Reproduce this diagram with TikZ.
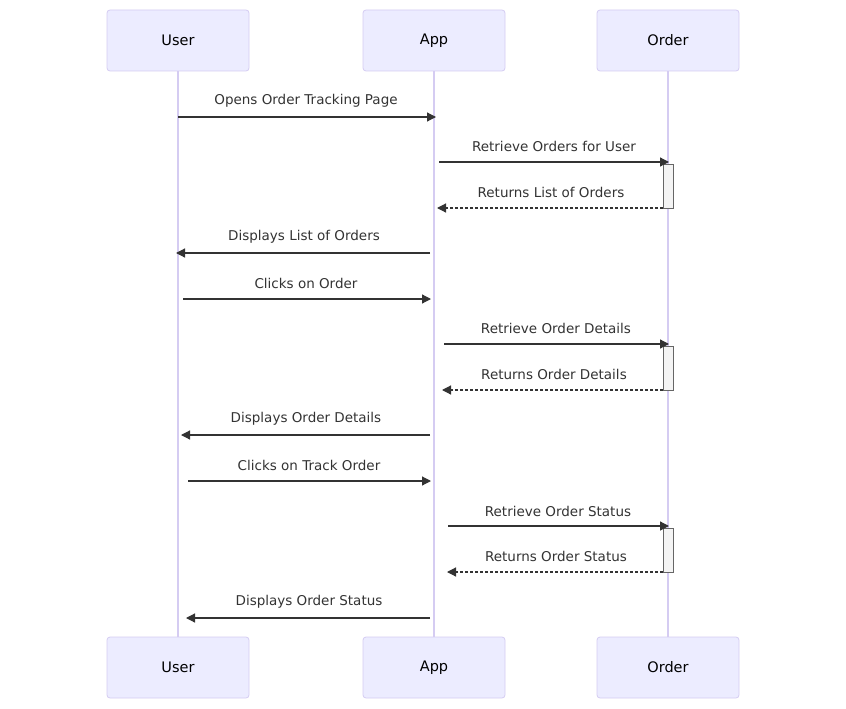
\documentclass[tikz,border=0pt]{standalone}
\usepackage{fontspec}
\setmainfont{DejaVu Sans}
\usetikzlibrary{arrows.meta}
\definecolor{actfill}{HTML}{ECECFF}
\definecolor{actline}{HTML}{D5CCF2}
\definecolor{msg}{HTML}{333333}
\definecolor{actvfill}{HTML}{F4F4F4}
\definecolor{actvline}{HTML}{666666}
\begin{document}
\begin{tikzpicture}[x=1pt,y=-1pt,
  actor/.style={draw=actline,fill=actfill,rounded corners=3pt,minimum width=142pt,minimum height=61pt,inner sep=0pt,font=\fontsize{14.5}{16}\selectfont,line width=0.8pt},
  life/.style={draw=actline,line width=1.2pt},
  msgline/.style={draw=msg,line width=1.2pt,-{Triangle[length=9pt,width=9pt]}},
  retline/.style={msgline,dash pattern=on 3pt off 2pt},
  lbl/.style={font=\fontsize{13.5}{15}\selectfont,text=msg,inner sep=0pt},
  activ/.style={draw=actvline,fill=actvfill,line width=0.8pt}]
\useasboundingbox (0,0) rectangle (846,709);
\node[actor] (u1) at (178,40.5) {User};
\node[actor] (a1) at (434,40.5) {App};
\node[actor] (o1) at (668,40.5) {Order};
\node[actor] (u2) at (178,667.5) {User};
\node[actor] (a2) at (434,667.5) {App};
\node[actor] (o2) at (668,667.5) {Order};
\draw[life] (u1.south) -- (u2.north);
\draw[life] (a1.south) -- (a2.north);
\draw[life] (o1.south) -- (o2.north);
% activations
\draw[activ] (663,164) rectangle (673,208);
\draw[activ] (663,346) rectangle (673,390);
\draw[activ] (663,528) rectangle (673,572);
% coordinates
\coordinate (s1) at (178,117); \coordinate (e1) at (436,117);
\coordinate (s2) at (439,162); \coordinate (e2) at (669,162);
\coordinate (s3) at (663,208); \coordinate (e3) at (437,208);
\coordinate (s4) at (430,253); \coordinate (e4) at (176,253);
\coordinate (s5) at (183,299); \coordinate (e5) at (431,299);
\coordinate (s6) at (444,344); \coordinate (e6) at (669,344);
\coordinate (s7) at (663,390); \coordinate (e7) at (442,390);
\coordinate (s8) at (430,435); \coordinate (e8) at (181,435);
\coordinate (s9) at (188,481); \coordinate (e9) at (431,481);
\coordinate (s10) at (448,526); \coordinate (e10) at (669,526);
\coordinate (s11) at (663,572); \coordinate (e11) at (447,572);
\coordinate (s12) at (430,618); \coordinate (e12) at (186,618);
\draw[msgline] (s1) -- (e1);
\draw[msgline] (s2) -- (e2);
\draw[retline] (s3) -- (e3);
\draw[msgline] (s4) -- (e4);
\draw[msgline] (s5) -- (e5);
\draw[msgline] (s6) -- (e6);
\draw[retline] (s7) -- (e7);
\draw[msgline] (s8) -- (e8);
\draw[msgline] (s9) -- (e9);
\draw[msgline] (s10) -- (e10);
\draw[retline] (s11) -- (e11);
\draw[msgline] (s12) -- (e12);
\node[lbl] (l1) at (306,101) {Opens Order Tracking Page};
\node[lbl] (l2) at (554,146) {Retrieve Orders for User};
\node[lbl] (l3) at (551,192) {Returns List of Orders};
\node[lbl] (l4) at (304,237) {Displays List of Orders};
\node[lbl] (l5) at (306,283) {Clicks on Order};
\node[lbl] (l6) at (556,328) {Retrieve Order Details};
\node[lbl] (l7) at (554,374) {Returns Order Details};
\node[lbl] (l8) at (306,419) {Displays Order Details};
\node[lbl] (l9) at (309,465) {Clicks on Track Order};
\node[lbl] (l10) at (558,511) {Retrieve Order Status};
\node[lbl] (l11) at (556,556) {Returns Order Status};
\node[lbl] (l12) at (309,602) {Displays Order Status};
\end{tikzpicture}
\end{document}
